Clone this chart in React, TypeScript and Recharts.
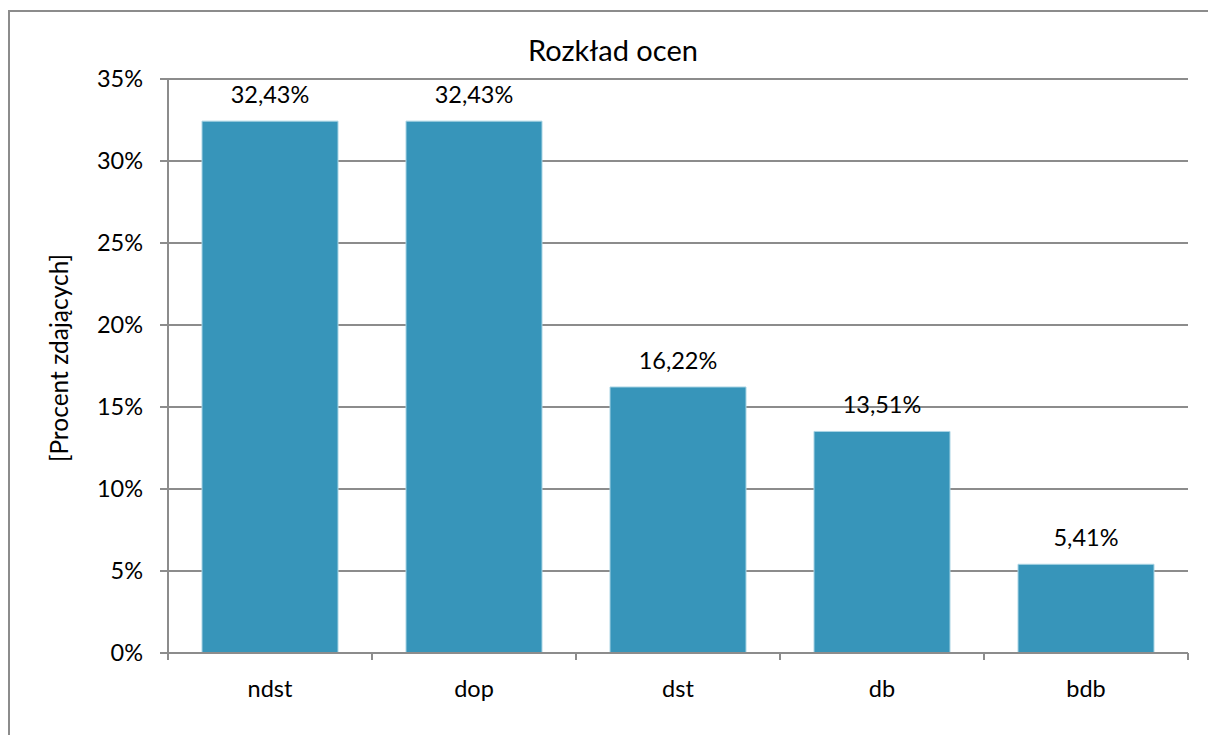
import React from "react";
import {
  BarChart,
  Bar,
  XAxis,
  YAxis,
  CartesianGrid,
  LabelList,
} from "recharts";

const categories = ["ndst", "dop", "dst", "db", "bdb"];
const percents = [32.43, 32.43, 16.22, 13.51, 5.41];
const yTicks = [0, 5, 10, 15, 20, 25, 30, 35];

const title = "Rozkład ocen";
const yLabel = "[Procent zdających]";

const data = categories.map((name, i) => ({ name, value: percents[i] }));

const FONT = "Lato, 'Open Sans', sans-serif";
const AXIS = "#8c8c8c";
const BAR = "#3795ba";
const X_TICK_SIZE = 7;
const X_TICK_MARGIN = 20;

const fmt = (v: number) => v.toFixed(2).replace(".", ",") + "%";

// category axis with tick marks at the band edges, like Excel draws them
function EdgeTick(props: any) {
  const { x, y, payload, index, visibleTicksCount } = props;
  const half = payload?.offset ?? 0;
  const top = y - X_TICK_SIZE - X_TICK_MARGIN;
  const isLast = index === visibleTicksCount - 1;
  return (
    <g>
      <line x1={x - half} x2={x - half} y1={top} y2={top + X_TICK_SIZE} stroke={AXIS} strokeWidth={2} />
      {isLast && (
        <line x1={x + half} x2={x + half} y1={top} y2={top + X_TICK_SIZE} stroke={AXIS} strokeWidth={2} />
      )}
      <text x={x} y={y} dy={17} textAnchor="middle" fontSize={23.5} fontFamily={FONT} fill="#000">
        {payload.value}
      </text>
    </g>
  );
}

export default function App() {
  return (
    <div
      style={{
        position: "fixed",
        left: 0,
        top: 0,
        width: 1208,
        height: 735,
        overflow: "hidden",
        background: "#fff",
      }}
    >
      <div
        style={{
          position: "absolute",
          left: 8,
          top: 10,
          width: 1300,
          height: 800,
          border: `2px solid ${AXIS}`,
        }}
      />
      <svg
        width={1208}
        height={80}
        style={{ position: "absolute", left: 0, top: 0 }}
      >
        <text x={613} y={61} textAnchor="middle" fontSize={29} fontFamily={FONT} fill="#000">
          {title}
        </text>
      </svg>
      <div style={{ position: "absolute", left: 0, top: 0 }}>
        <BarChart
          width={1208}
          height={735}
          data={data}
          margin={{ top: 79, right: 20, left: 0, bottom: 22 }}
          barCategoryGap="16.67%"
        >
          <CartesianGrid vertical={false} stroke={AXIS} strokeWidth={2} />
          <XAxis
            dataKey="name"
            height={60}
            tickLine={false}
            tickSize={X_TICK_SIZE}
            tickMargin={X_TICK_MARGIN}
            axisLine={{ stroke: AXIS, strokeWidth: 2 }}
            tick={<EdgeTick />}
            interval={0}
          />
          <YAxis
            width={168}
            domain={[0, 35]}
            ticks={yTicks}
            tickFormatter={(v: number) => `${v}%`}
            tickSize={8}
            tickMargin={17}
            axisLine={{ stroke: AXIS, strokeWidth: 2 }}
            tickLine={{ stroke: AXIS, strokeWidth: 2 }}
            tick={{ fontSize: 23.5, fontFamily: FONT, fill: "#000" }}
            label={{
              content: ({ viewBox }: any) => {
                const cx = 58;
                const cy = viewBox.y + viewBox.height / 2 - 8;
                return (
                  <text
                    x={cx}
                    y={cy}
                    transform={`rotate(-90 ${cx} ${cy})`}
                    textAnchor="middle"
                    dominantBaseline="central"
                    fontSize={24.5}
                    fontFamily={FONT}
                    fill="#000"
                  >
                    {yLabel}
                  </text>
                );
              },
            }}
          />
          <Bar
            dataKey="value"
            fill={BAR}
            stroke="#a9d4e4"
            strokeWidth={1}
            isAnimationActive={false}
          >
            <LabelList
              dataKey="value"
              position="top"
              offset={18}
              formatter={(v: any) => fmt(Number(v))}
              style={{ fontSize: 23.5, fontFamily: FONT, fill: "#000" }}
            />
          </Bar>
        </BarChart>
      </div>
    </div>
  );
}
